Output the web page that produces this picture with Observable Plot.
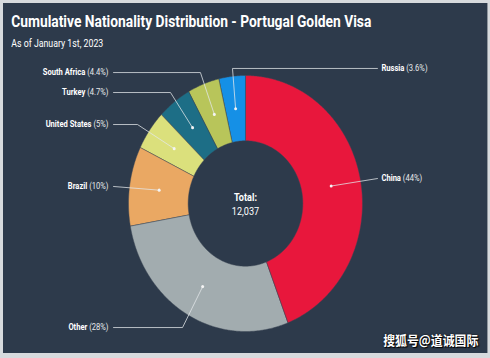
<!DOCTYPE html>
<html>
<head>
<meta charset="utf-8">
<script src="https://cdn.jsdelivr.net/npm/d3@7"></script>
<script src="https://cdn.jsdelivr.net/npm/@observablehq/plot@0.6"></script>
<style>
html, body { margin: 0; padding: 0; width: 490px; height: 358px; overflow: hidden; background: #d7dadd; }
#panel { position: absolute; left: 3px; top: 3px; width: 530px; height: 350px; background: #2d3a4b;
  transform: scaleX(0.914); transform-origin: 0 0; overflow: hidden; font-family: Roboto, sans-serif; color: #fff; }
#title { position: absolute; left: 8.75px; top: 10.5px; font-size: 16px; line-height: 16px; font-weight: 700; white-space: nowrap; transform-origin: 0 0; }
#subtitle { position: absolute; left: 8.75px; top: 36.2px; font-size: 10.5px; line-height: 10.5px; white-space: nowrap; transform-origin: 0 0; }
#chart { position: absolute; left: 0; top: 52px; }
#wm { position: absolute; left: 416px; top: 330px; font-family: "Noto Sans CJK SC", sans-serif; font-weight: 700; font-size: 13px; line-height: 13px; white-space: nowrap; color: #fff; text-shadow: 0 0 2px #000, 1px 1px 1px #000; }
</style>
</head>
<body>
<div id="panel">
  <div id="title"></div>
  <div id="subtitle"></div>
  <div id="chart"></div>
  <div id="wm"></div>
</div>
<script>
// ---- data ----
const countries = ["China", "Other", "Brazil", "United States", "Turkey", "South Africa", "Russia"];
const shares = [44, 28, 10, 5, 4.7, 4.4, 3.6];
const sliceColors = ["#e8173c", "#a2acaf", "#eaa863", "#dbe07c", "#1d6e86", "#b8c55a", "#1590e6"];
const totalTitle = "Total:";
const totalValue = "12,037";
const titleText = "Cumulative Nationality Distribution - Portugal Golden Visa";
const subtitleText = "As of January 1st, 2023";
const watermarkText = "搜狐号@道诚国际";

// ---- label layout (unit-circle coordinates) ----
const labelSide = ["right", "left", "left", "left", "left", "left", "right"];
const labelY = [0.195, -0.969, 0.133, 0.617, 0.867, 1.023, 1.055];
const labelElbowX = [null, -0.538, null, -0.923, -0.641, -0.385, -0.111];
const LEFT_TEXT_END = -1.171, RIGHT_TEXT_START = 1.162, LINE_END = 1.128;
const INNER = 0.49;

// ---- geometry ----
const R = 128, CX = 264.8, CY = 148, W = 530, H = 298;
const total = d3.sum(shares);
let cum = 0;
const slices = countries.map((name, i) => {
  const a0 = cum / total * 2 * Math.PI; cum += shares[i];
  const a1 = cum / total * 2 * Math.PI;
  return {name, share: shares[i], a0, a1, i};
});
const ringPts = slices.flatMap(s => {
  const n = Math.max(2, Math.ceil((s.a1 - s.a0) / (Math.PI / 360)));
  const angles = d3.range(n + 1).map(j => s.a0 + (s.a1 - s.a0) * j / n);
  const outer = angles.map(a => ({name: s.name, x: Math.sin(a), y: Math.cos(a)}));
  const inner = angles.slice().reverse().map(a => ({name: s.name, x: INNER * Math.sin(a), y: INNER * Math.cos(a)}));
  return outer.concat(inner);
});
const midR = (1 + INNER) / 2;
const dots = slices.map(s => {
  const a = (s.a0 + s.a1) / 2;
  return {name: s.name, x: midR * Math.sin(a), y: midR * Math.cos(a)};
});
const leaderPts = slices.flatMap((s, i) => {
  const pts = [{name: s.name, x: dots[i].x, y: dots[i].y}];
  if (labelElbowX[i] != null) pts.push({name: s.name, x: labelElbowX[i], y: labelY[i]});
  pts.push({name: s.name, x: labelSide[i] === "left" ? -LINE_END : LINE_END, y: labelY[i]});
  return pts;
});

const ctx = document.createElement("canvas").getContext("2d");
function textW(t, weight, size) { ctx.font = `${weight} ${size}px Roboto`; return ctx.measureText(t).width; }
const LABEL_SIZE = 8.3;
const labels = slices.map((s, i) => {
  const pct = `(${s.share}%)`;
  const wName = textW(s.name, 700, LABEL_SIZE), wSp = textW(" ", 400, LABEL_SIZE), wPct = textW(pct, 400, LABEL_SIZE);
  const start = labelSide[i] === "left" ? LEFT_TEXT_END - (wName + wSp + wPct) / R : RIGHT_TEXT_START;
  return {name: s.name, pct, y: labelY[i], nameX: start, pctX: start + (wName + wSp) / R};
});
const centerText = [{t: totalTitle, y: 0.047, w: 700}, {t: totalValue, y: -0.0625, w: 400}];

const chart = Plot.plot({
  width: W, height: H, margin: 0,
  x: {domain: [-1, 1], range: [CX - R, CX + R], axis: null},
  y: {domain: [-1, 1], range: [CY + R, CY - R], axis: null},
  color: {type: "ordinal", domain: countries, range: sliceColors},
  style: {background: "transparent", color: "#fff", fontFamily: "Roboto, sans-serif", overflow: "visible"},
  marks: [
    Plot.line(ringPts, {x: "x", y: "y", z: "name", fill: "name", stroke: "#3a4554", strokeWidth: 0.5, curve: "linear-closed"}),
    Plot.line(leaderPts, {x: "x", y: "y", z: "name", stroke: "#e4e7ea", strokeWidth: 0.8}),
    Plot.dot(dots, {x: "x", y: "y", r: 1.6, fill: "#f4f4f4"}),
    Plot.text(labels, {x: "nameX", y: "y", text: "name", textAnchor: "start", fontWeight: 700, fontSize: LABEL_SIZE, fill: "#fff"}),
    Plot.text(labels, {x: "pctX", y: "y", text: "pct", textAnchor: "start", fontWeight: 400, fontSize: LABEL_SIZE, fill: "#e8eaec"}),
    Plot.text(centerText.filter(d => d.w === 700), {x: () => 0, y: "y", text: "t", fontWeight: 700, fontSize: 10, fill: "#fff"}),
    Plot.text(centerText.filter(d => d.w === 400), {x: () => 0, y: "y", text: "t", fontWeight: 400, fontSize: 10, fill: "#fff"})
  ]
});
document.getElementById("chart").appendChild(chart);

const title = document.getElementById("title");
title.textContent = titleText;
const tw = textW(titleText, 700, 16);
title.style.transform = `scaleX(${394 / tw})`;
const sub = document.getElementById("subtitle");
sub.textContent = subtitleText;
const sw = textW(subtitleText, 400, 10.5);
sub.style.transform = `scaleX(${100.7 / sw})`;
document.getElementById("wm").textContent = watermarkText;
</script>
</body>
</html>
